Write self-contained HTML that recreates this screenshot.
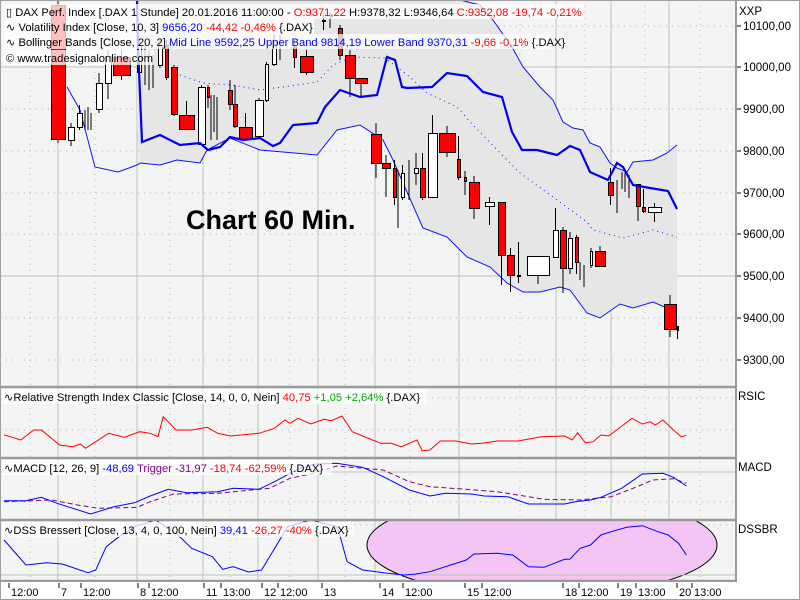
<!DOCTYPE html>
<html><head><meta charset="utf-8"><style>
body{margin:0;background:#fff;}
svg{display:block;font-family:"Liberation Sans",sans-serif;}
</style></head><body>
<svg id="s" width="800" height="600" xmlns="http://www.w3.org/2000/svg">
<rect x="0" y="0" width="800" height="600" fill="#fff"/>
<rect x="0" y="0" width="736" height="581" fill="#f4f4f4"/>
<g id="grid"></g>
<g id="main"></g>
<g id="ind"></g>
<g id="txt"></g>
</svg>
<script>
const NS="http://www.w3.org/2000/svg";
function el(p,t,a,txt){const e=document.createElementNS(NS,t);for(const k in a)e.setAttribute(k,a[k]);if(txt!==undefined)e.textContent=txt;document.getElementById(p).appendChild(e);return e;}
const G='grid',M='main',I='ind',T='txt';
const defs=el('s','defs',{});
const cp=document.createElementNS(NS,'clipPath');cp.setAttribute('id','cm');
const cr=document.createElementNS(NS,'rect');cr.setAttribute('x',0);cr.setAttribute('y',0);cr.setAttribute('width',736);cr.setAttribute('height',386);cp.appendChild(cr);defs.appendChild(cp);
document.getElementById(M).setAttribute('clip-path','url(#cm)');
const cp2=document.createElementNS(NS,'clipPath');cp2.setAttribute('id','cd');
const cr2=document.createElementNS(NS,'rect');cr2.setAttribute('x',0);cr2.setAttribute('y',521);cr2.setAttribute('width',736);cr2.setAttribute('height',59);cp2.appendChild(cr2);defs.appendChild(cp2);
[58,137,203,258,318,375,459,556,611,669].forEach(x=>el(G,'line',{x1:x,y1:0,x2:x,y2:581,stroke:'#b7c6b3','stroke-width':1}));
[26,109,151,193,234,318,360,398,430,502,525].forEach(y=>el(G,'line',{x1:0,y1:y,x2:736,y2:y,stroke:'#b0b0b0','stroke-width':1,'stroke-dasharray':'1,5'}));
[30,95,170,230,290,345,410,520,585,645,700].forEach(x=>el(G,'line',{x1:x,y1:0,x2:x,y2:581,stroke:'#b8b8b8','stroke-width':1,'stroke-dasharray':'1,5'}));
[67,276,472,575].forEach(y=>el(G,'line',{x1:0,y1:y,x2:736,y2:y,stroke:'#b7c6b3','stroke-width':1}));
function pts(a){return a.map(p=>p[0]+','+p[1]).join(' ');}
const upper=[[137,-40],[250,-30],[330,-20],[420,-10],[480,5],[493,20],[512,47],[523,67],[540,87],[553,100],[563,122],[573,128],[583,130],[590,143],[600,147],[610,163],[617,168],[627,172],[633,162],[653,160],[667,153],[677,145]];
const lower=[[137,130],[140,163],[160,165],[177,160],[200,163],[207,150],[230,138],[260,150],[283,152],[317,155],[337,130],[360,125],[383,140],[393,160],[403,183],[423,228],[447,237],[467,257],[490,267],[507,283],[523,292],[540,292],[560,287],[570,290],[587,313],[600,318],[620,304],[633,308],[653,302],[667,308],[677,330]];
el(M,'polygon',{points:pts(upper.concat(lower.slice().reverse())),fill:'#e6e6e6'});
el(M,'polyline',{points:pts([[67,87],[80,110],[95,167],[118,172],[137,165]].concat(lower.slice(1))),fill:'none',stroke:'#1010ff','stroke-width':1});
el(M,'polyline',{points:pts(upper),fill:'none',stroke:'#1010ff','stroke-width':1});
el(M,'polyline',{points:pts([[180,75],[203,83],[233,85],[260,90],[283,87],[317,82],[333,65],[353,57],[385,58],[410,77],[427,93],[457,107],[473,125],[507,160],[520,173],[553,197],[587,222],[593,230],[623,238],[653,230],[677,237]]),fill:'none',stroke:'#1010ff','stroke-width':1,'stroke-dasharray':'1,4'});
const C=[[51,65,5,139,0,143,1],[68,74,140,127,123,146,0],[77,82,127,113,105,130,0],[85,85,118,118,110,130,0],[88,88,118,118,107,130,0],[91,91,120,120,113,130,0],[96,102,109,83,73,113,0],[105,111,83,56,50,99,0],[113,130,57,75,50,80,1],[137,141,72,45,40,75,0],[145,145,60,60,45,85,0],[149,149,60,60,50,90,0],[153,153,65,65,55,88,0],[158,162,65,45,40,68,0],[165,168,45,77,40,80,1],[171,177,67,114,65,116,1],[179,194,115,129,101,129,1],[198,205,144,87,85,144,0],[207,209,87,97,85,108,1],[211,211,100,100,95,140,0],[214,214,100,100,95,132,0],[217,217,100,100,97,140,0],[228,232,90,104,80,110,1],[233,237,104,126,85,128,1],[239,252,127,139,113,140,1],[255,263,136,100,98,137,0],[265,268,100,64,62,102,0],[272,276,64,40,35,66,0],[280,280,45,45,35,60,0],[293,296,47,57,40,68,1],[300,313,56,72,50,75,1],[322,325,20,20,15,30,0],[330,330,18,18,12,28,0],[338,342,28,55,25,60,1],[345,355,55,78,50,97,1],[355,367,78,83,78,97,1],[371,381,134,163,123,178,1],[382,390,163,168,155,197,1],[393,396,168,197,160,205,1],[398,398,197,197,170,228,0],[401,404,197,173,165,200,0],[409,409,190,190,160,200,0],[414,418,173,168,153,185,0],[420,425,168,197,153,200,1],[428,437,197,133,115,198,0],[439,455,133,152,126,157,1],[457,460,159,177,136,180,1],[464,466,177,181,171,195,1],[469,479,182,208,176,219,1],[485,494,206,202,197,225,0],[498,505,202,255,202,285,1],[507,514,255,275,248,292,1],[517,520,275,275,242,283,0],[527,549,275,256,256,284,0],[553,558,257,230,208,258,0],[560,566,230,268,227,293,1],[568,572,268,238,232,274,0],[575,578,237,262,235,274,1],[580,580,268,268,262,280,0],[584,584,272,272,265,287,0],[590,592,265,251,248,268,0],[595,605,251,266,246,266,1],[608,613,182,195,168,205,1],[617,617,195,195,180,213,0],[622,622,183,183,172,189,0],[625,625,180,180,172,192,0],[629,629,184,184,175,198,0],[636,640,184,206,185,221,1],[642,645,207,211,189,213,1],[648,661,212,207,203,222,0],[664,676,304,329,295,337,1],[677,678,326,330,326,339,1]];
C.forEach(c=>{const cx=(c[0]+c[1])/2;el(M,'line',{x1:cx,y1:c[4],x2:cx,y2:c[5],stroke:'#000','stroke-width':1});
 const t=Math.min(c[2],c[3]),h=Math.max(Math.abs(c[3]-c[2]),1),w=c[1]-c[0];
 if(w>0)el(M,'rect',{x:c[0]+0.5,y:t+0.5,width:w,height:h,fill:c[6]?'#ff0000':'#fff',stroke:'#000','stroke-width':1});});
el(M,'polyline',{points:pts([[100,-5],[137,0],[138,47],[142,142],[160,135],[180,145],[200,143],[208,150],[220,147],[230,137],[243,140],[260,138],[273,146],[280,143],[293,125],[317,123],[325,107],[340,90],[360,97],[377,95],[387,57],[395,60],[402,87],[407,88],[432,87],[447,73],[467,76],[483,92],[502,97],[512,132],[522,150],[537,150],[557,155],[570,146],[580,150],[590,172],[608,180],[617,163],[623,167],[633,185],[650,188],[668,191],[677,209]]),fill:'none',stroke:'#0000ee','stroke-width':2.2});
const sx=0.518;
function cv(a){return a.map(p=>[ (p[0]*sx).toFixed(1), (380+p[1]/3).toFixed(1)]);}
el(I,'polyline',{points:pts(cv([[8,165],[20,170],[40,180],[65,150],[80,150],[115,195],[140,200],[155,192],[165,205],[210,160],[240,172],[270,155],[290,160],[305,170],[315,110],[340,150],[370,150],[400,142],[420,160],[445,168],[500,160],[530,145],[550,120],[560,130],[575,115],[600,132],[625,118],[640,122],[660,108],[680,155],[700,168],[735,190],[755,190],[775,200],[805,180],[815,212],[830,210],[850,183],[880,183],[910,192],[930,190],[960,183],[1000,183],[1045,170],[1090,168],[1105,180],[1115,158],[1130,188],[1145,185],[1160,165],[1175,168],[1220,115],[1240,132],[1255,125],[1265,135],[1280,120],[1300,150],[1315,170],[1325,166]])),fill:'none',stroke:'#ff0000','stroke-width':1});
el(I,'polyline',{points:pts(cv([[8,365],[100,360],[150,375],[190,385],[265,382],[290,365],[335,342],[420,340],[520,325],[560,295],[600,282],[650,258],[740,270],[790,305],[830,320],[900,328],[960,335],[1000,345],[1050,358],[1120,360],[1180,350],[1230,320],[1260,300],[1300,296],[1325,310]])),fill:'none',stroke:'#800080','stroke-width':1,'stroke-dasharray':'5,3'});
el(I,'polyline',{points:pts(cv([[8,362],[50,362],[80,352],[110,370],[175,402],[220,380],[260,368],[290,348],[325,328],[360,338],[420,335],[450,325],[500,328],[530,305],[560,280],[580,265],[610,252],[650,250],[700,262],[740,290],[790,330],[830,348],[860,340],[910,342],[935,348],[980,350],[1020,372],[1090,372],[1110,365],[1140,360],[1160,352],[1200,325],[1240,282],[1280,280],[1300,292],[1325,318]])),fill:'none',stroke:'#0000ff','stroke-width':1});
el(I,'ellipse',{cx:542,cy:545,rx:175,ry:51,fill:'#f4c4f4',stroke:'#000','stroke-width':1,'clip-path':'url(#cd)'});
el(I,'line',{x1:0,y1:575,x2:736,y2:575,stroke:'#b7c6b3'});
el(I,'polyline',{points:pts(cv([[8,480],[50,555],[90,548],[120,552],[170,578],[185,570],[205,500],[230,470],[260,440],[300,420],[340,460],[370,505],[410,530],[430,568],[450,560],[480,576],[505,570],[540,480],[555,440],[600,420],[650,440],[655,460],[670,545],[700,570],[740,578],[780,585],[800,583],[830,575],[870,555],[900,540],[915,522],[960,520],[990,525],[1020,560],[1050,562],[1090,538],[1100,538],[1120,505],[1140,495],[1160,465],[1180,455],[1210,442],[1240,437],[1270,455],[1290,465],[1310,490],[1325,525]])),fill:'none',stroke:'#0000ff','stroke-width':1,'clip-path':'url(#cd)'});
[387,458,520,581].forEach(y=>el(I,'line',{x1:0,y1:y,x2:737,y2:y,stroke:'#9a9a9a','stroke-width':2.5}));
el(I,'line',{x1:736,y1:0,x2:736,y2:582,stroke:'#9a9a9a','stroke-width':2});
el(I,'rect',{x:0.5,y:0.5,width:799,height:599,fill:'none',stroke:'#a0a0a0'});
function leg(x,y,w,parts){el(T,'rect',{x:x,y:y-12,width:w,height:15,fill:'#fff','fill-opacity':0.75});
 const t=el(T,'text',{x:x+2,y:y,'font-size':11.2});parts.forEach(p=>{const s=document.createElementNS(NS,'tspan');s.setAttribute('fill',p[1]);s.textContent=p[0];t.appendChild(s);});}
leg(4,16,580,[['\u25AF DAX Perf. Index [.DAX  1 Stunde] 20.01.2016 11:00:00 - ','#000'],['O:9371,22 ','#f00'],['H:9378,32 L:9346,64 ','#000'],['C:9352,08 -19,74 -0,21%','#f00']]);
leg(4,31,310,[['\u223F Volatility Index [Close, 10, 3] ','#000'],['9656,20 ','#00f'],['-44,42 -0,46% ','#f00'],['{.DAX}','#000']]);
leg(4,46,546,[['\u223F Bollinger Bands [Close, 20, 2] ','#000'],['Mid Line 9592,25 Upper Band 9814,19 Lower Band 9370,31 ','#00f'],['-9,66 -0,1% ','#f00'],['{.DAX}','#000']]);
leg(4,62,150,[['\u00A9 www.tradesignalonline.com','#000']]);
leg(2,401,425,[['\u223FRelative Strength Index Classic [Close, 14, 0, 0, Nein] ','#000'],['40,75 ','#f00'],['+1,05 +2,64% ','#0a0'],['{.DAX}','#000']]);
leg(2,472,330,[['\u223FMACD [12, 26, 9] ','#000'],['-48,69 ','#00f'],['Trigger -31,97 ','#800080'],['-18,74 -62,59% ','#f00'],['{.DAX}','#000']]);
leg(2,534,352,[['\u223FDSS Bressert [Close, 13, 4, 0, 100, Nein] ','#000'],['39,41 ','#00f'],['-26,27 -40% ','#f00'],['{.DAX}','#000']]);
el(T,'text',{x:186,y:229,'font-size':27,'font-weight':'bold',fill:'#000'},'Chart 60 Min.');
el(T,'text',{x:739,y:15,'font-size':11.5},'XXP');
[[10100,26],[10000,67],[9900,109],[9800,151],[9700,193],[9600,234],[9500,276],[9400,318],[9300,360]].forEach(p=>{el(T,'line',{x1:737,y1:p[1],x2:741,y2:p[1],stroke:'#000'});el(T,'text',{x:743,y:p[1]+4,'font-size':11.5},p[0]+',00');});
el(T,'text',{x:738,y:400,'font-size':11.5},'RSIC');
el(T,'text',{x:738,y:471,'font-size':11.5},'MACD');
el(T,'text',{x:738,y:533,'font-size':11.5},'DSSBR');
el(T,'rect',{x:1,y:582,width:735,height:17,fill:'#fff'});
[[10,'12:00'],[60,'7'],[82,'12:00'],[139,'8'],[150,'12:00'],[205,'11'],[222,'13:00'],[263,'12'],[279,'12:00'],[323,'13'],[381,'14'],[404,'12:00'],[466,'15'],[483,'12:00'],[564,'18'],[580,'12:00'],[619,'19'],[637,'13:00'],[678,'20'],[693,'13:00']].forEach(p=>{el(T,'line',{x1:p[0]-1,y1:583,x2:p[0]-1,y2:588,stroke:'#000'});el(T,'text',{x:p[0]+1,y:596,'font-size':11},p[1]);});
</script>
</body></html>
